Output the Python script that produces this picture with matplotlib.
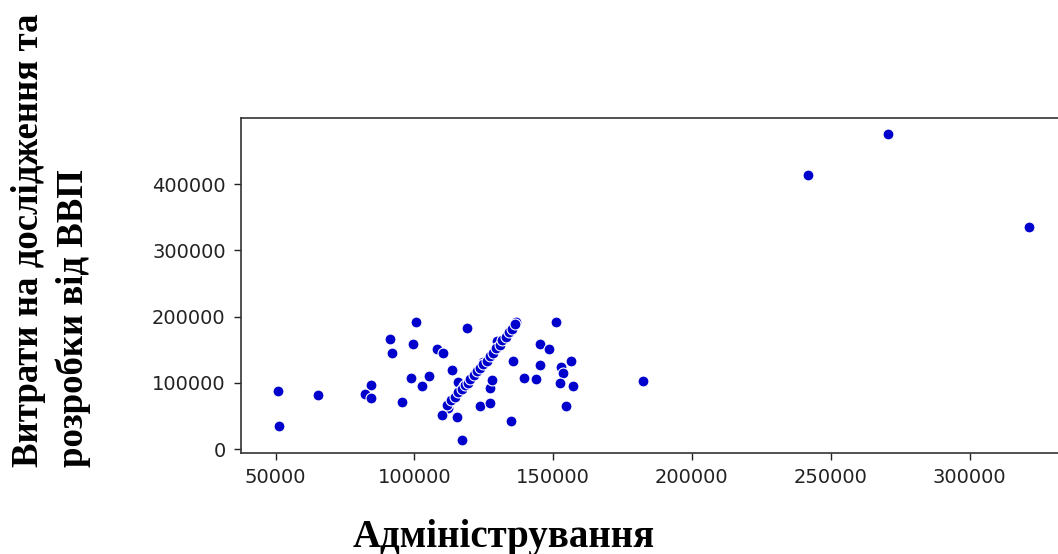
import matplotlib.pyplot as plt

# scattered points (Адміністрування, Витрати на дослідження та розробки)
admin = [50800, 51200, 65200, 84500, 82400, 84500, 95500, 98900, 102900, 105200,
         100700, 99500, 91100, 91800, 118800, 108300, 110300, 113700, 115700, 117900,
         112100, 110100, 115500, 117000, 123600, 127200, 127200, 128100, 124700, 129800,
         136500, 135600, 135000, 139400, 143800, 145200, 145400, 148500, 151200, 153000,
         153600, 156300, 152400, 157200, 154500, 182300, 241900, 270800, 321600]
rnd = [88400, 35100, 81900, 97000, 83400, 76900, 71800, 107100, 95900, 110600,
       192500, 158400, 166400, 145300, 183400, 150800, 144800, 119600, 102000, 95500,
       61800, 51700, 49200, 14000, 65300, 70300, 92000, 104500, 132100, 163800,
       192500, 133200, 42700, 107100, 105600, 127200, 158800, 150800, 192500, 124600,
       114600, 133200, 99600, 95500, 65300, 103200, 413700, 475100, 334800]

# dense diagonal run of overlapping points
diag_admin = [111800, 113300, 114600, 115900, 117100, 118100, 119200, 120200, 121400, 122700,
              123700, 124900, 126100, 127100, 128400, 129400, 130700, 131700, 132900, 134100,
              135100, 136100]
diag_rnd = [67000, 74000, 79500, 86500, 90500, 96500, 100500, 106500, 111500, 117500,
            122000, 128500, 133500, 140500, 145500, 152500, 157500, 164500, 169500, 176500,
            181500, 188500]

xticks = [50000, 100000, 150000, 200000, 250000, 300000]
yticks = [0, 100000, 200000, 300000, 400000]

fig = plt.figure(figsize=(10.58, 5.54), dpi=100)
ax = fig.add_axes([0.2278, 0.1823, 0.7817, 0.6047])

ax.scatter(admin + diag_admin, rnd + diag_rnd, s=62, color="mediumblue",
           edgecolor="white", linewidth=0.8)

ax.set_xlim(37560, 335500)
ax.set_ylim(-5600, 499700)
ax.set_xticks(xticks)
ax.set_yticks(yticks)
ax.tick_params(labelsize=14, length=5, width=1, pad=6, colors="#222222")
for sp in ax.spines.values():
    sp.set_linewidth(1.2)
    sp.set_color("#333333")

fig.text(0.048, 0.567, "Витрати на дослідження та\nрозробки від ВВП",
         rotation=90, ha="center", va="center", multialignment="left",
         fontsize=26.5, fontweight="bold", family="Liberation Serif", linespacing=1.35)
fig.text(0.476, 0.0126, "Адміністрування", ha="center", va="baseline",
         fontsize=28, fontweight="bold", family="Liberation Serif")

fig.savefig("out.png", dpi=100)
